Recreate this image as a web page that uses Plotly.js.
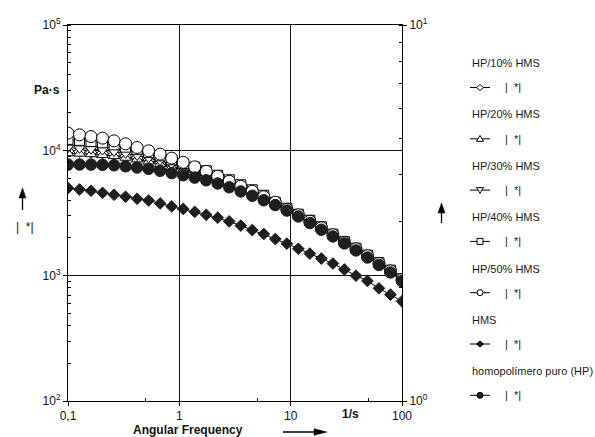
<!DOCTYPE html>
<html>
<head>
<meta charset="utf-8">
<script src="https://cdn.plot.ly/plotly-3.0.1.min.js"></script>
<style>html,body{margin:0;padding:0;background:#fff;}#chart{width:595px;height:437px;}</style>
</head>
<body>
<div id="chart"></div>
<script>
// Angular frequency (1/s)
const freq = [0.1, 0.1269, 0.161, 0.2043, 0.2593, 0.329, 0.4175, 0.5298, 0.6723, 0.8532,
  1.083, 1.374, 1.743, 2.212, 2.807, 3.562, 4.520, 5.736, 7.279, 9.237,
  11.72, 14.87, 18.87, 23.95, 30.39, 38.57, 48.94, 62.10, 78.80, 100];

// |eta*| (Pa·s)
const hp10 = [9854,9745,9623,9499,9275,8991,8682,8338,7935,7484,7083,6716,6321,5884,5458,5016,4602,4191,3761,3382,3034,2704,2395,2102,1839,1626,1427,1244,1084,926];
const hp20 = [9482,9412,9309,9190,8991,8730,8463,8143,7762,7347,6966,6605,6240,5820,5398,4961,4560,4160,3747,3370,3023,2694,2382,2095,1836,1620,1422,1239,1080,922];
const hp30 = [10510,10370,10220,10040,9763,9447,9090,8698,8246,7748,7293,6890,6486,6015,5559,5100,4670,4245,3789,3401,3051,2724,2413,2114,1846,1635,1435,1251,1090,933];
const hp40 = [12230,12010,11750,11480,11060,10600,10130,9587,9041,8401,7834,7347,6866,6321,5820,5311,4845,4380,3852,3450,3090,2768,2457,2141,1866,1656,1457,1269,1106,946];
const hp50 = [13710,13290,12880,12510,11900,11270,10530,9910,9330,8665,8025,7385,6800,6205,5662,5166,4713,4261,3852,3388,3063,2719,2413,2122,1849,1641,1443,1251,1092,929];
const hms  = [5000,4870,4760,4580,4420,4260,4110,3980,3770,3570,3410,3230,3060,2900,2710,2510,2310,2150,1960,1800,1640,1500,1370,1250,1120,1000,908,792,706,624];
const hp   = [7707,7707,7693,7664,7594,7456,7293,7122,6866,6581,6321,6060,5767,5438,5072,4696,4340,3996,3658,3308,2968,2630,2326,2056,1809,1591,1396,1217,1060,904];

const seriesNames = ['HP/10% HMS','HP/20% HMS','HP/30% HMS','HP/40% HMS','HP/50% HMS','HMS','homopolímero puro (HP)'];
const seriesData = [hp10, hp20, hp30, hp40, hp50, hms, hp];
const xTickVals = [0.1, 1, 10, 100];
const xTickText = ['0,1', '1', '10', '100'];
const yTickVals = [100, 1000, 10000, 100000];
const yTickText = ['10<sup>2</sup>', '10<sup>3</sup>', '10<sup>4</sup>', '10<sup>5</sup>'];
const y2TickVals = [1, 10];
const y2TickText = ['10<sup>0</sup>', '10<sup>1</sup>'];

const dark = '#1e1e1e';
const styles = [
  {symbol:'diamond', size:9, color:'#000', fill:'#fff'},
  {symbol:'triangle-up', size:10, color:'#000', fill:'#fff'},
  {symbol:'triangle-down', size:10, color:'#000', fill:'#fff'},
  {symbol:'square', size:10, color:'#000', fill:'#fff'},
  {symbol:'circle', size:12, color:'#000', fill:'#fff'},
  {symbol:'diamond', size:9, color:dark, fill:dark},
  {symbol:'circle', size:11.5, color:dark, fill:dark}
];

const traces = seriesData.map((d, i) => ({
  x: freq, y: d, name: seriesNames[i], type: 'scatter', mode: 'lines+markers',
  line: {color: '#000', width: 1},
  marker: {symbol: styles[i].symbol, size: styles[i].size, color: styles[i].fill,
           line: {color: styles[i].color, width: 1}},
  showlegend: false, hoverinfo: 'skip'
}));
traces.push({x: [], y: [], yaxis: 'y2', type: 'scatter', mode: 'markers', showlegend: false});

const PL = 68, PR = 402, PT = 25, PB = 401;
const fx = x => (x - PL) / (PR - PL);
const fy = y => (PB - y) / (PB - PT);
const FONT = 'Liberation Sans, Arial, sans-serif';

const annotations = [];
const shapes = [];
function txt(t, x, y, opts) {
  annotations.push(Object.assign({text: t, x: fx(x), y: fy(y), xref: 'paper', yref: 'paper',
    showarrow: false, xanchor: 'left', yanchor: 'middle',
    font: {family: FONT, size: 11, color: '#1a1a1a'}}, opts || {}));
}
function pshape(x, y, s) {
  shapes.push(Object.assign({xref: 'paper', yref: 'paper', xsizemode: 'pixel', ysizemode: 'pixel',
    xanchor: fx(x), yanchor: fy(y), line: {color: '#000', width: 1}}, s));
}

// axis labels
txt('<b>Pa·s</b>', 62, 90, {xanchor: 'right', font: {family: FONT, size: 12, color: '#111'}});
txt('|\u00a0\u00a0*|', 14, 227, {font: {family: FONT, size: 12, color: '#111'}});
txt('<b>1/s</b>', 350, 414, {xanchor: 'center', font: {family: FONT, size: 12, color: '#111'}});
txt('<b>Angular Frequency</b>', 188, 430, {xanchor: 'center', font: {family: FONT, size: 12, color: '#111'}});

// arrows
pshape(22.5, 198, {type: 'path', path: 'M0,-12L0,2', fillcolor: 'rgba(0,0,0,0)', line: {color: '#000', width: 1.3}});
pshape(22.5, 198, {type: 'path', path: 'M-3.5,0L3.5,0L0,10Z', fillcolor: '#000', line: {color: '#000', width: 0.5}});
pshape(441.5, 213, {type: 'path', path: 'M0,-10L0,2', fillcolor: 'rgba(0,0,0,0)', line: {color: '#000', width: 1.3}});
pshape(441.5, 213, {type: 'path', path: 'M-3.5,0L3.5,0L0,10Z', fillcolor: '#000', line: {color: '#000', width: 0.5}});
pshape(314, 432, {type: 'path', path: 'M-31,0L2,0', fillcolor: 'rgba(0,0,0,0)', line: {color: '#000', width: 1.3}});
pshape(314, 432, {type: 'path', path: 'M0,-3.3L0,3.3L13,0Z', fillcolor: '#000', line: {color: '#000', width: 0.5}});

// legend
const keyPaths = [
  {type: 'path', path: 'M-3.5,0L0,3L3.5,0L0,-3Z', fill: '#fff'},
  {type: 'path', path: 'M-3.5,-2.5L3.5,-2.5L0,3.3Z', fill: '#fff'},
  {type: 'path', path: 'M-3.5,2.5L3.5,2.5L0,-3.3Z', fill: '#fff'},
  {type: 'rect', fill: '#fff'},
  {type: 'circle', fill: '#fff'},
  {type: 'path', path: 'M-3.5,0L0,3L3.5,0L0,-3Z', fill: dark},
  {type: 'circle', fill: dark}
];
seriesNames.forEach((n, i) => {
  const ty = 63 + i * 51.4;
  const ky = 87.5 + i * 51.3;
  txt(n, 470, ty);
  txt('|\u00a0\u00a0*|', 503, ky);
  shapes.push({type: 'line', xref: 'paper', yref: 'paper', x0: fx(470), x1: fx(490), y0: fy(ky), y1: fy(ky),
    line: {color: '#000', width: 1}});
  const k = keyPaths[i];
  const s = {type: k.type, fillcolor: k.fill, line: {color: '#000', width: 1}};
  if (k.type === 'path') s.path = k.path;
  else { s.x0 = -3; s.x1 = 3; s.y0 = -3; s.y1 = 3; }
  pshape(480, ky, s);
});

const axisCommon = {
  showline: true, linecolor: '#000', linewidth: 1, zeroline: false,
  ticks: 'outside', ticklen: 4, tickcolor: '#000', tickwidth: 1,
  tickfont: {family: FONT, size: 12, color: '#111'}
};

const layout = {
  width: 595, height: 437,
  margin: {l: PL, r: 595 - PR, t: PT, b: 437 - PB, pad: 0},
  paper_bgcolor: '#fff', plot_bgcolor: '#fff',
  font: {family: FONT, size: 12, color: '#111'},
  showlegend: false,
  xaxis: Object.assign({}, axisCommon, {
    type: 'log', range: [-1, 2], tickmode: 'array', tickvals: xTickVals, ticktext: xTickText,
    mirror: true, showgrid: true, gridcolor: '#111', gridwidth: 1,
    minor: {tickmode: 'array', tickvals: [0.5, 5, 50], ticks: 'inside', ticklen: 3, tickcolor: '#000', showgrid: false}
  }),
  yaxis: Object.assign({}, axisCommon, {
    type: 'log', range: [2, 5], tickmode: 'array', tickvals: yTickVals, ticktext: yTickText,
    showgrid: true, gridcolor: '#111', gridwidth: 1,
    minor: {dtick: 'D1', ticks: 'inside', ticklen: 3, tickcolor: '#000', showgrid: false}
  }),
  yaxis2: Object.assign({}, axisCommon, {
    type: 'log', range: [0, 1], overlaying: 'y', side: 'right', anchor: 'x',
    tickmode: 'array', tickvals: y2TickVals, ticktext: y2TickText, showgrid: false,
    minor: {dtick: 'D1', ticks: 'inside', ticklen: 3, tickcolor: '#000', showgrid: false}
  }),
  annotations: annotations,
  shapes: shapes
};

Plotly.newPlot('chart', traces, layout, {staticPlot: true, displayModeBar: false});
</script>
</body>
</html>
